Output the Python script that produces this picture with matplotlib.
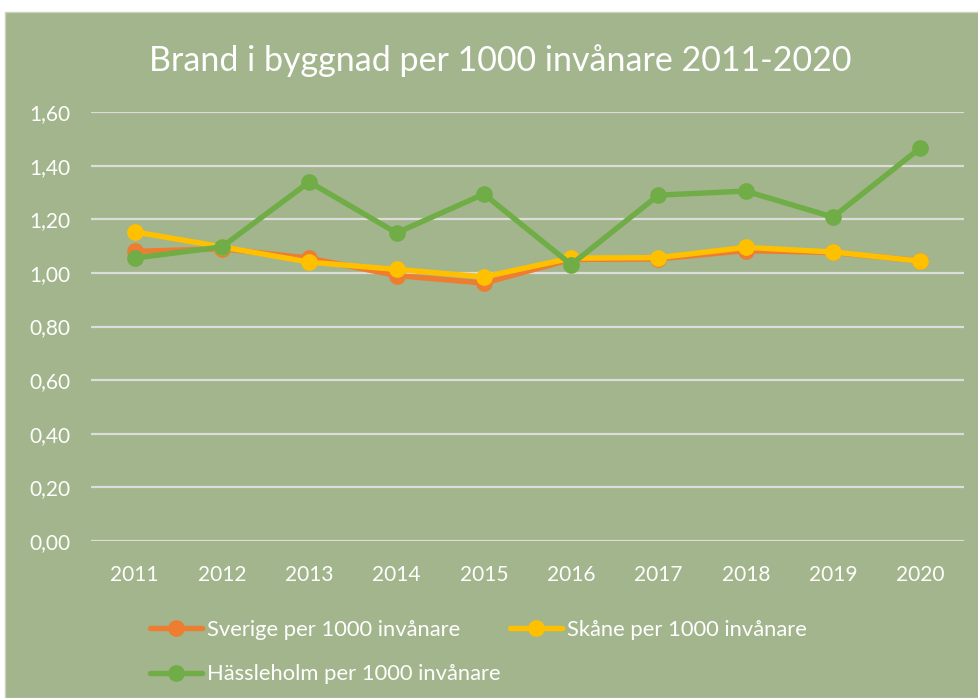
import numpy as np
import matplotlib.pyplot as plt
from matplotlib.patches import Rectangle

plt.rcParams['font.family'] = ['Lato', 'DejaVu Sans']

years = ['2011', '2012', '2013', '2014', '2015', '2016', '2017', '2018', '2019', '2020']
sverige = [1.08, 1.09, 1.055, 0.99, 0.962, 1.05, 1.052, 1.083, 1.076, 1.045]
skane = [1.153, 1.097, 1.04, 1.013, 0.985, 1.055, 1.057, 1.095, 1.078, 1.044]
hassleholm = [1.055, 1.097, 1.339, 1.149, 1.294, 1.031, 1.29, 1.305, 1.208, 1.466]
yticks = [0.0, 0.2, 0.4, 0.6, 0.8, 1.0, 1.2, 1.4, 1.6]

bg = '#a3b58c'
W, H = 979, 698

fig = plt.figure(figsize=(W / 100, H / 100), dpi=100, facecolor='white')
# green chart area below a thin white strip
fig.patches.append(Rectangle((5 / W, 0), 1 - 5 / W, 1 - 12 / H, transform=fig.transFigure,
                             facecolor=bg, edgecolor='#c8d2bc', lw=1, zorder=-5))

ax = fig.add_axes([91 / W, 1 - 541 / H, 873 / W, (541 - 112) / H])
ax.patch.set_alpha(0)

x = np.arange(len(years))
lines = []
for vals, col, name in [(sverige, '#ed7d31', 'Sverige per 1000 invånare'),
                        (skane, '#ffc000', 'Skåne per 1000 invånare'),
                        (hassleholm, '#70ad47', 'Hässleholm per 1000 invånare')]:
    ln, = ax.plot(x, vals, color=col, lw=3.9, marker='o', ms=11, label=name,
                  solid_capstyle='round', zorder=3)
    lines.append(ln)

ax.set_xlim(-0.5, len(years) - 0.5)
ax.set_ylim(0, 1.6)
ax.set_yticks(yticks)
ax.set_yticklabels([f'{v:.2f}'.replace('.', ',') for v in yticks])
ax.set_xticks(x)
ax.set_xticklabels(years)
ax.grid(axis='y', color='#dcdcdc', lw=1.6)
ax.set_axisbelow(True)
for s in ax.spines.values():
    s.set_visible(False)
ax.tick_params(length=0, colors='white', labelsize=15, pad=17)
ax.tick_params(axis='y', pad=15)

fig.text(0.511, 1 - 61 / H, 'Brand i byggnad per 1000 invånare 2011-2020',
         ha='center', va='center', color='white', fontsize=24.5)

leg = fig.legend([lines[0], lines[2], lines[1]],
                 [lines[0].get_label(), lines[2].get_label(), lines[1].get_label()],
                 ncol=2, loc='upper left', bbox_to_anchor=(130 / W, 1 - 600 / H),
                 frameon=False, fontsize=15.8, labelcolor='white', handlelength=2.37,
                 handletextpad=0.25, columnspacing=0.4, labelspacing=1.12)

fig.savefig('out.png', dpi=100, facecolor='white')
